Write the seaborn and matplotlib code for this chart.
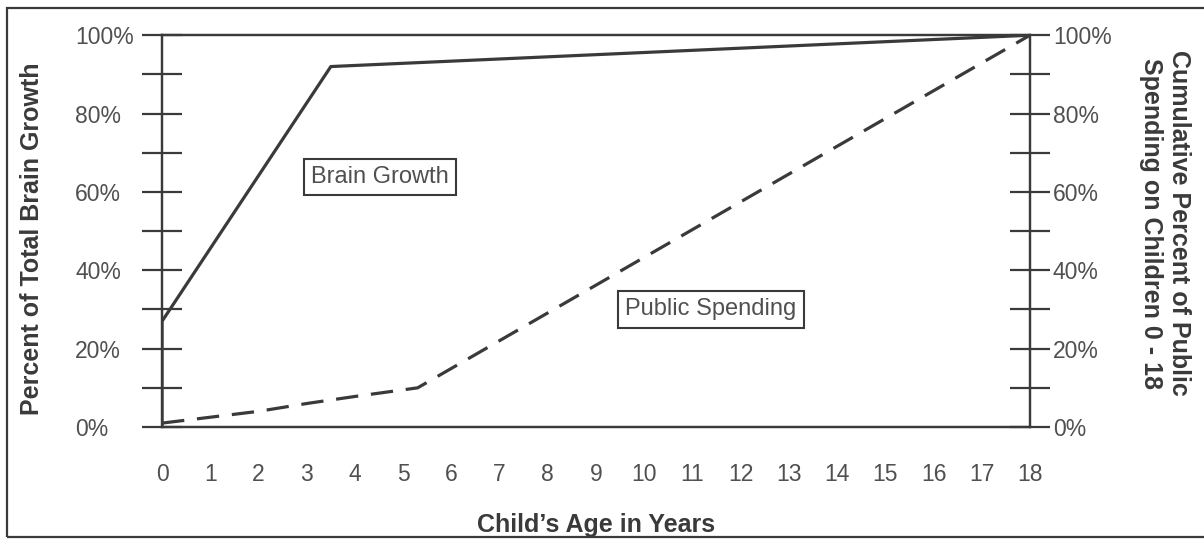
import numpy as np
import pandas as pd
import seaborn as sns
import matplotlib.pyplot as plt
from matplotlib.patches import Rectangle
from matplotlib.ticker import MultipleLocator, PercentFormatter

# values
brain_age = [0, 0, 3.5, 18]
brain_pct = [0, 27, 92, 100]
spend_age = [0, 1, 2, 3, 4, 5.3, 18]
spend_pct = [1, 2.5, 4, 6, 7.8, 10, 100]
age_ticks = list(range(0, 19))

INK = "#3a3a3a"
TXT = "#505050"


def build_chart():
    brain = pd.DataFrame({"age": brain_age, "pct": brain_pct})
    spend = pd.DataFrame({"age": spend_age, "pct": spend_pct})

    fig, ax = plt.subplots(figsize=(12.04, 5.5), dpi=100)
    fig.subplots_adjust(left=0.1346, right=0.8555, top=0.936, bottom=0.2236)
    ax2 = ax.twinx()

    sns.lineplot(data=brain, x="age", y="pct", ax=ax, estimator=None,
                 sort=False, color=INK, lw=2.3)
    sns.lineplot(data=spend, x="age", y="pct", ax=ax2, estimator=None,
                 sort=False, color=INK, lw=2.3, linestyle=(0, (7, 4)))

    for a in (ax, ax2):
        a.set_xlim(0, 18)
        a.set_ylim(0, 100)
        a.yaxis.set_major_locator(MultipleLocator(20))
        a.yaxis.set_minor_locator(MultipleLocator(10))
        a.yaxis.set_major_formatter(PercentFormatter(decimals=0))
        a.tick_params(axis="y", which="both", direction="inout", length=29,
                      width=1.6, color=INK, labelsize=16.5, labelcolor=TXT, pad=2)
        a.set_facecolor("none")
        for s in a.spines.values():
            s.set_color(INK)
            s.set_linewidth(1.6)
    # left tick labels sit flush-left, like the scan
    ax.tick_params(axis="y", which="major", pad=48)
    for lab in ax.get_yticklabels():
        lab.set_ha("left")

    ax.set_xticks(age_ticks)
    ax.tick_params(axis="x", direction="inout", length=24, width=1.6,
                   color=INK, labelsize=16.5, labelcolor=TXT, pad=14)

    ax.set_xlabel("Child\u2019s Age in Years", fontsize=18, fontweight="bold",
                  color=INK)
    ax.xaxis.set_label_coords(0.5, -0.25)
    ax.xaxis.label.set_va("center")
    ax.set_ylabel("Percent of Total Brain Growth", fontsize=18,
                  fontweight="bold", color=INK)
    ax.yaxis.set_label_coords(-0.15, 0.48)
    ax.yaxis.label.set_va("center")
    ax2.set_ylabel("Cumulative Percent of Public\nSpending on Children 0 - 18",
                   fontsize=18, fontweight="bold", color=INK, rotation=270,
                   linespacing=1.25)
    ax2.yaxis.set_label_coords(1.1555, 0.52)
    ax2.yaxis.label.set_va("center")

    box = dict(boxstyle="square,pad=0.3", fc="white", ec=INK, lw=1.5)
    ax.text(4.52, 63.8, "Brain Growth", fontsize=17, color=TXT,
            ha="center", va="center", bbox=box)
    ax.text(11.38, 30, "Public Spending", fontsize=17, color=TXT,
            ha="center", va="center", bbox=box)

    fig.add_artist(Rectangle((0.0058, 0.0236), 1.1, 0.962,
                             transform=fig.transFigure, fill=False,
                             ec=INK, lw=1.6, clip_on=False))
    return fig


def main():
    fig = build_chart()
    fig.savefig("out.png", dpi=100, facecolor="white")


if __name__ == "__main__":
    sns.set_theme(style="white")
    plt.rcParams["font.family"] = ["Liberation Sans", "DejaVu Sans"]
    main()
